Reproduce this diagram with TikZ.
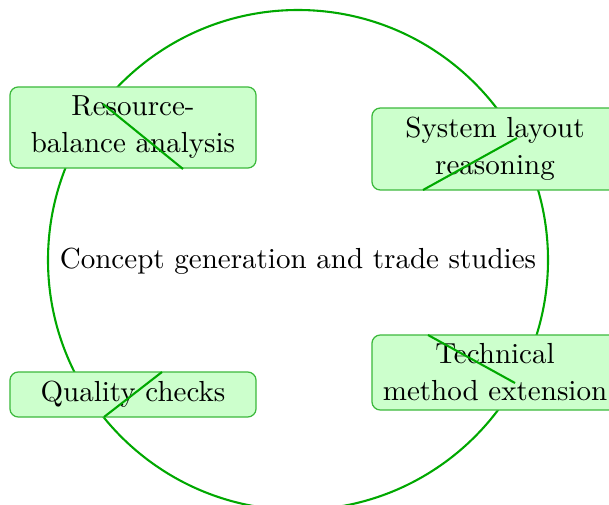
\documentclass[tikz,border=0pt]{standalone}
\usetikzlibrary{positioning}
\definecolor{ringgreen}{RGB}{0,168,0}
\definecolor{boxedge}{RGB}{60,185,60}
\definecolor{boxfill}{RGB}{204,255,204}
\tikzset{
  ring/.style={draw=ringgreen, line width=0.75pt},
  stage/.style={draw=boxedge, fill=boxfill, line width=0.45pt, rounded corners=3pt,
    inner sep=0pt, minimum width=88.6pt, align=center},
  link/.style={draw=ringgreen, line width=0.75pt},
  every node/.style={font=\fontsize{10.45pt}{13.3pt}\selectfont},
}
\begin{document}
\begin{tikzpicture}[x=0.36pt, y=-0.36pt]
  \useasboundingbox (0,0) rectangle (609,505);
  % central cycle
  \coordinate (hub) at (298,260);
  \draw[ring] (hub) circle[radius=90pt];
  \node (core) at (298,261) {Concept generation and trade studies};
  % stages placed on the cycle
  \node[stage, minimum height=29.2pt] (res) at (133,127.5) {Resource-\\balance analysis};
  \node[stage, minimum height=29.5pt] (sys) at (495,149) {System layout\\reasoning};
  \node[stage, minimum height=16.2pt] (qual) at (133,394.5) {Quality checks};
  \node[stage, minimum height=27pt] (tech) at (495,372.5) {Technical\\method extension};
  % strokes across the stages
  \coordinate (r1) at (103,104);  \coordinate (r2) at (183,169);
  \coordinate (s1) at (423,190);  \coordinate (s2) at (517,138);
  \coordinate (q1) at (104,417);  \coordinate (q2) at (162,372);
  \coordinate (t1) at (428,335);  \coordinate (t2) at (515,383);
  \draw[link] (r1) -- (r2);
  \draw[link] (s1) -- (s2);
  \draw[link] (q1) -- (q2);
  \draw[link] (t1) -- (t2);
\end{tikzpicture}
\end{document}
